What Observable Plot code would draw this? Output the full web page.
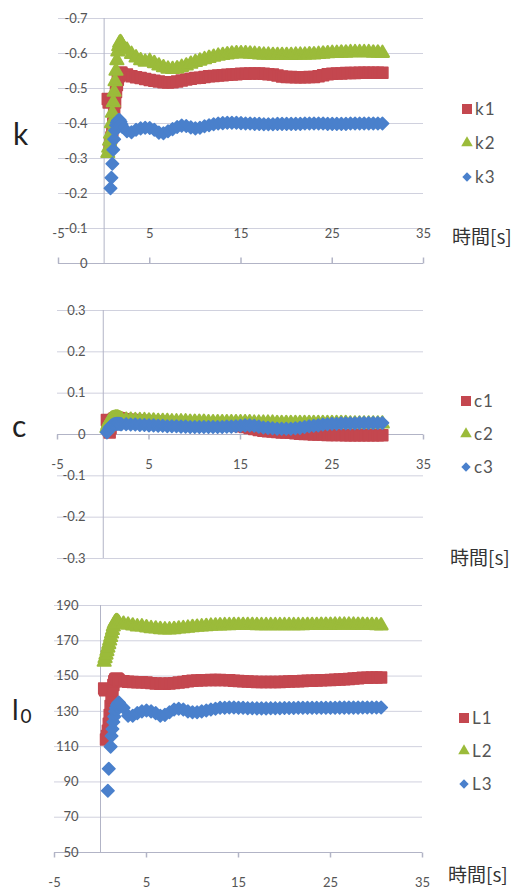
<!DOCTYPE html>
<html>
<head>
<meta charset="utf-8">
<script src="https://cdn.jsdelivr.net/npm/d3@7"></script>
<script src="https://cdn.jsdelivr.net/npm/@observablehq/plot@0.6"></script>
<style>
  body { margin: 0; background: #fff; }
  #chart { position: relative; width: 518px; height: 891px; font-family: Lato, "Open Sans", sans-serif; }
  #chart svg { position: absolute; left: 0; }
</style>
</head>
<body>
<div id="chart"></div>
<script>
// Sample times [s] shared by all series (dense at the start of the run)
const time = [
  0.4, 0.5, 0.6, 0.7, 0.8, 0.9, 1.0, 1.1, 1.2, 1.3, 1.4, 1.5, 1.6, 1.7, 1.8, 1.9, 2.0,
  2.5, 3.0, 3.5, 4.0, 4.5, 5.0, 5.5, 6.0, 6.5, 7.0, 7.5, 8.0, 8.5, 9.0, 9.5, 10.0,
  10.5, 11.0, 11.5, 12.0, 12.5, 13.0, 13.5, 14.0, 14.5, 15.0, 15.5, 16.0, 16.5, 17.0, 17.5, 18.0, 18.5, 19.0, 19.5, 20.0,
  20.5, 21.0, 21.5, 22.0, 22.5, 23.0, 23.5, 24.0, 24.5, 25.0, 25.5, 26.0, 26.5, 27.0, 27.5, 28.0, 28.5, 29.0, 29.5, 30.0, 30.5
];

// Stiffness k
const k1 = [
  -0.47, -0.46, -0.33, -0.345, -0.36, -0.38, -0.40, -0.43, -0.46, -0.49, -0.51, -0.525, -0.535, -0.54, -0.545, -0.545, -0.54,
  -0.54, -0.535, -0.532, -0.53, -0.527, -0.524, -0.522, -0.52, -0.518, -0.517, -0.518, -0.52, -0.523, -0.526, -0.528, -0.53,
  -0.531, -0.533, -0.535, -0.536, -0.537, -0.538, -0.539, -0.54, -0.541, -0.542, -0.542, -0.543, -0.543, -0.543, -0.542, -0.541, -0.54, -0.537, -0.534, -0.533,
  -0.533, -0.532, -0.532, -0.532, -0.533, -0.533, -0.535, -0.538, -0.541, -0.542, -0.543, -0.543, -0.544, -0.544, -0.544, -0.545, -0.545, -0.545, -0.545, -0.545, -0.545
];
const k2 = [
  -0.315, -0.33, -0.35, -0.37, -0.40, -0.43, -0.46, -0.49, -0.52, -0.55, -0.58, -0.605, -0.62, -0.63, -0.632, -0.628, -0.622,
  -0.61, -0.598, -0.588, -0.58, -0.576, -0.578, -0.572, -0.565, -0.56, -0.556, -0.555, -0.557, -0.561, -0.565, -0.57, -0.575,
  -0.579, -0.583, -0.587, -0.59, -0.593, -0.595, -0.597, -0.599, -0.6, -0.6, -0.6, -0.599, -0.598, -0.597, -0.596, -0.596, -0.595, -0.595, -0.595, -0.595,
  -0.595, -0.596, -0.596, -0.596, -0.597, -0.597, -0.598, -0.599, -0.6, -0.601, -0.601, -0.602, -0.602, -0.603, -0.603, -0.603, -0.603, -0.603, -0.602, -0.602, -0.601
];
const k3 = [
  null, null, null, -0.215, -0.245, -0.285, -0.325, -0.355, -0.38, -0.395, -0.403, -0.408, -0.41, -0.41, -0.405, -0.398, -0.39,
  -0.378, -0.375, -0.382, -0.386, -0.388, -0.387, -0.382, -0.374, -0.372, -0.378, -0.384, -0.39, -0.394, -0.393, -0.389, -0.386,
  -0.388, -0.392, -0.395, -0.398, -0.4, -0.401, -0.402, -0.402, -0.402, -0.401, -0.4, -0.4, -0.399, -0.399, -0.398, -0.398, -0.398, -0.399, -0.399, -0.399,
  -0.399, -0.399, -0.399, -0.4, -0.4, -0.4, -0.4, -0.4, -0.399, -0.399, -0.399, -0.399, -0.399, -0.4, -0.4, -0.4, -0.4, -0.4, -0.4, -0.4, -0.4
];

// Damping c
const c1 = [
  0.035, 0.03, 0.01, 0.005, 0.015, 0.025, 0.032, 0.036, 0.038, 0.039, 0.04, 0.04, 0.04, 0.039, 0.039, 0.038, 0.038,
  0.037, 0.036, 0.035, 0.034, 0.033, 0.032, 0.031, 0.031, 0.03, 0.03, 0.029, 0.029, 0.028, 0.028, 0.027, 0.027,
  0.026, 0.026, 0.025, 0.025, 0.024, 0.024, 0.023, 0.022, 0.021, 0.02, 0.018, 0.016, 0.013, 0.011, 0.009, 0.008, 0.007, 0.006, 0.005, 0.005,
  0.004, 0.003, 0.002, 0.001, 0.001, 0, 0, 0, -0.001, -0.001, -0.001, -0.001, -0.002, -0.002, -0.002, -0.002, -0.002, -0.002, -0.002, -0.002, -0.002
];
const c2 = [
  0.015, 0.022, 0.028, 0.032, 0.035, 0.037, 0.038, 0.039, 0.039, 0.04, 0.04, 0.04, 0.04, 0.039, 0.038, 0.037, 0.036,
  0.035, 0.035, 0.034, 0.034, 0.034, 0.033, 0.033, 0.032, 0.032, 0.032, 0.031, 0.031, 0.031, 0.031, 0.03, 0.03,
  0.03, 0.03, 0.029, 0.029, 0.029, 0.029, 0.029, 0.029, 0.029, 0.029, 0.029, 0.029, 0.028, 0.028, 0.028, 0.028, 0.028, 0.027, 0.027, 0.027,
  0.027, 0.027, 0.027, 0.027, 0.027, 0.027, 0.027, 0.027, 0.027, 0.027, 0.027, 0.027, 0.027, 0.026, 0.026, 0.026, 0.026, 0.026, 0.026, 0.026, 0.026
];
const c3 = [
  0.005, 0.008, 0.012, 0.016, 0.019, 0.021, 0.023, 0.024, 0.025, 0.025, 0.026, 0.026, 0.026, 0.026, 0.026, 0.025, 0.025,
  0.025, 0.024, 0.024, 0.023, 0.023, 0.022, 0.022, 0.021, 0.021, 0.02, 0.02, 0.02, 0.019, 0.019, 0.018, 0.018,
  0.018, 0.018, 0.018, 0.018, 0.018, 0.018, 0.019, 0.019, 0.02, 0.021, 0.022, 0.022, 0.021, 0.019, 0.017, 0.016, 0.015, 0.014, 0.014, 0.014,
  0.014, 0.015, 0.016, 0.018, 0.02, 0.021, 0.022, 0.024, 0.025, 0.026, 0.026, 0.027, 0.027, 0.027, 0.027, 0.028, 0.028, 0.028, 0.028, 0.028, 0.028
];

// Natural length l0
const L1 = [
  143, 142, 114, 116, 119, 123, 128, 133, 138, 142, 145, 147, 148, 148.5, 148.5, 148, 147.5,
  147, 146.8, 146.6, 146.5, 146.5, 146.3, 146, 145.8, 145.6, 145.6, 145.8, 146, 146.3, 146.6, 147, 147.3,
  147.5, 147.6, 147.7, 147.8, 147.8, 147.8, 147.7, 147.6, 147.4, 147.2, 147, 146.9, 146.8, 146.7, 146.7, 146.6, 146.6, 146.6, 146.7, 146.8,
  146.9, 147, 147.1, 147.2, 147.3, 147.4, 147.5, 147.6, 147.7, 147.8, 147.9, 148, 148.2, 148.4, 148.6, 148.8, 149, 149.1, 149.2, 149.2, 149.2
];
const L2 = [
  158, 160, 162, 164, 166, 168, 170, 172, 174, 176, 178, 179.5, 180.5, 181, 181, 180.5, 180,
  179.5, 179, 178.5, 178, 178, 177.5, 177, 176.8, 176.5, 176.3, 176.3, 176.5, 176.8, 177, 177.3, 177.6,
  177.8, 178, 178.2, 178.4, 178.5, 178.6, 178.7, 178.7, 178.8, 178.8, 178.8, 178.8, 178.8, 178.7, 178.7, 178.7, 178.7, 178.7, 178.7, 178.7,
  178.7, 178.7, 178.7, 178.7, 178.8, 178.8, 178.8, 178.9, 178.9, 178.9, 179, 179, 179, 179, 179, 178.9, 178.9, 178.8, 178.8, 178.7, 178.6
];
const L3 = [
  null, null, null, null, 85, 97.5, null, 110, 116, 120, 124, 127, 130, 132, 133.5, 134.5, 135,
  132, 127.5, 127.5, 129, 130, 130.5, 130, 129, 127.5, 128, 129.5, 131, 131.5, 131, 130, 129.5,
  129.5, 130, 130.5, 131, 131.5, 132, 132, 132.2, 132.2, 132, 132, 131.8, 131.8, 131.7, 131.7, 131.7, 131.8, 131.8, 131.8, 131.9,
  131.9, 131.9, 132, 132, 132, 132, 132, 132, 132, 132, 132, 132.1, 132.1, 132.1, 132.1, 132.1, 132.2, 132.2, 132.2, 132.2, 132.2
];

// Axis ticks and legend names
const xTicks = [-5, 5, 15, 25, 35];
const kTicks = [0, -0.1, -0.2, -0.3, -0.4, -0.5, -0.6, -0.7];
const cTicks = [0.3, 0.2, 0.1, 0, -0.1, -0.2, -0.3];
const lTicks = [190, 170, 150, 130, 110, 90, 70, 50];
const kNames = ["k1", "k2", "k3"];
const cNames = ["c1", "c2", "c3"];
const lNames = ["L1", "L2", "L3"];
const xTitle = "時間[s]";

// Series styling (Excel-like markers)
const seriesColors = ["#c4474f", "#9bbb3a", "#4a80cc"];
const seriesSymbols = ["square", "triangle", "diamond2"];
const seriesR = [6.2, 4.8, 5.6];
const seriesStroke = [1.5, 2.2, 1.6];
const gridColor = "#d0d1de";
const axisColor = "#b2b4c6";
const labelColor = "#555";

const panels = [
  { names: kNames, values: [k1, k2, k3], ticks: kTicks, domain: [0, -0.7], axisAt: 0,
    top: 0, height: 290, mt: 18, mr: 95, mb: 27, ml: 58, labelDx: 29, xLabelDy: -30, tickLen: -6,
    title: { text: "k", x: 13, y: 145 },
    timeLabel: { x: 452, y: 244 },
    legend: { x: 467, y: 109, step: 34 } },
  { names: cNames, values: [c1, c2, c3], ticks: cTicks, domain: [-0.3, 0.3], axisAt: 0,
    top: 290, height: 310, mt: 20, mr: 95, mb: 42, ml: 57, labelDx: 28, xLabelDy: 30, tickLen: 5,
    title: { text: "c", x: 12, y: 437 },
    timeLabel: { x: 450, y: 565 },
    legend: { x: 466, y: 401, step: 33 } },
  { names: lNames, values: [L1, L2, L3], ticks: lTicks, domain: [50, 190], axisAt: 50,
    top: 600, height: 291, mt: 5, mr: 96, mb: 39, ml: 54, labelDx: 24, xLabelDy: 30, tickLen: 5,
    title: { text: "l", sub: "0", x: 12, y: 720 },
    timeLabel: { x: 448, y: 882 },
    legend: { x: 464, y: 718, step: 33 } }
];

// A short vertical stroke used as an axis tick mark
const tickSymbol = (len) => ({
  draw(context) { context.moveTo(0, 0); context.lineTo(0, len); }
});

const chart = document.getElementById("chart");

for (const p of panels) {
  const svg = Plot.plot({
    width: 518,
    height: p.height,
    marginTop: p.mt, marginRight: p.mr, marginBottom: p.mb, marginLeft: p.ml,
    style: { fontFamily: "Lato, 'Open Sans', sans-serif", background: "transparent", overflow: "visible" },
    x: { domain: [-5, 35], axis: null },
    y: { domain: p.domain, axis: null },
    marks: [
      Plot.ruleY(p.ticks, { stroke: gridColor, strokeWidth: 1 }),
      Plot.ruleX([0], { stroke: axisColor, strokeWidth: 1 }),
      Plot.ruleY([p.axisAt], { stroke: axisColor, strokeWidth: 1 }),
      Plot.dot(xTicks, { x: d => d, y: () => p.axisAt, symbol: tickSymbol(p.tickLen), stroke: axisColor, fill: "none" }),
      Plot.text(p.ticks, {
        y: d => d, text: d => String(d), frameAnchor: "left", dx: p.labelDx,
        textAnchor: "end", fontSize: 13, fill: labelColor
      }),
      Plot.text(xTicks, {
        x: d => d, y: () => p.axisAt, dy: p.xLabelDy, text: d => String(d),
        fontSize: 13, fill: labelColor
      }),
      ...p.values.map((vals, i) => Plot.dot(vals, {
        x: time, y: vals, symbol: seriesSymbols[i], r: seriesR[i],
        fill: seriesColors[i], stroke: seriesColors[i], strokeWidth: seriesStroke[i],
        strokeLinejoin: "round"
      }))
    ]
  });
  svg.style.top = p.top + "px";
  chart.append(svg);
}

// Axis names, time labels and legends drawn over the three panels
const legendSymbols = { square: [d3.symbolSquare, 100], triangle: [d3.symbolTriangle, 58], diamond2: [d3.symbolDiamond2, 56] };
const overlay = d3.create("svg")
  .attr("width", 518).attr("height", 891)
  .style("top", "0px").style("pointer-events", "none");

for (const p of panels) {
  const t = overlay.append("text")
    .attr("x", p.title.x).attr("y", p.title.y)
    .attr("font-family", "Lato, 'Open Sans', sans-serif")
    .attr("font-size", p.title.sub ? 28 : 30)
    .attr("fill", "#222")
    .text(p.title.text);
  if (p.title.sub) {
    t.append("tspan").attr("font-size", 19).attr("dx", 2).attr("dy", 3).text(p.title.sub);
  }

  overlay.append("text")
    .attr("x", p.timeLabel.x).attr("y", p.timeLabel.y)
    .attr("font-family", "'Noto Sans CJK JP', sans-serif")
    .attr("font-size", 19)
    .attr("fill", "#333")
    .text(xTitle);

  p.names.forEach((name, i) => {
    const cy = p.legend.y + i * p.legend.step;
    const [type, size] = legendSymbols[seriesSymbols[i]];
    overlay.append("path")
      .attr("transform", `translate(${p.legend.x},${cy})`)
      .attr("d", d3.symbol(type, size)())
      .attr("fill", seriesColors[i]);
    overlay.append("text")
      .attr("x", p.legend.x + 8).attr("y", cy + 6)
      .attr("font-family", "Lato, 'Open Sans', sans-serif")
      .attr("font-size", 17)
      .attr("letter-spacing", 1)
      .attr("fill", labelColor)
      .text(name);
  });
}
chart.append(overlay.node());
</script>
</body>
</html>
